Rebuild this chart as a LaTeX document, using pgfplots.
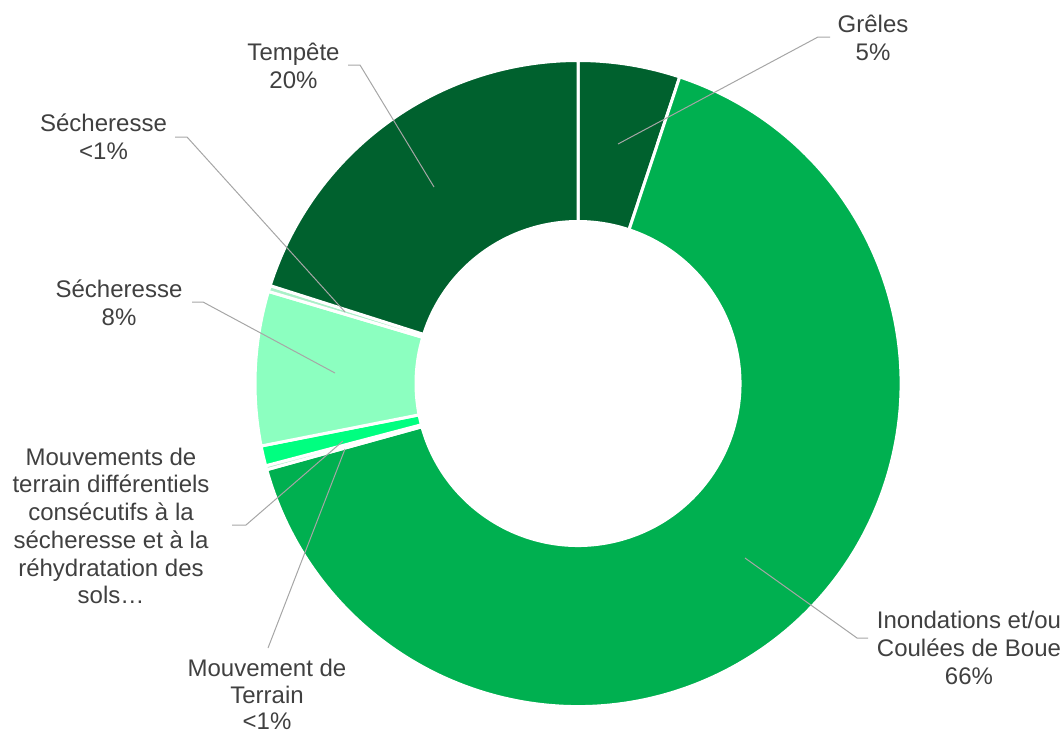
\documentclass[border=0pt]{standalone}
\usepackage{pgfplots}
\pgfplotsset{compat=1.18}
\usepackage{pgfplotstable}
\usepackage{fontspec}
\setmainfont{Liberation Sans}

\definecolor{dkgreen}{RGB}{0,97,46}
\definecolor{midgreen}{RGB}{0,176,80}
\definecolor{brightgreen}{RGB}{0,255,128}
\definecolor{mint}{RGB}{140,255,192}
\definecolor{pale}{RGB}{170,240,200}
\definecolor{labelgray}{RGB}{64,64,64}
\definecolor{leadergray}{RGB}{166,166,166}

% share of each type of event, in percent, clockwise from the top
\pgfplotstableread[col sep=comma]{
slice,value,colour
Grêles,5.1,dkgreen
Inondations et/ou Coulées de Boue,65.6,midgreen
Mouvement de Terrain,0.2,pale
Mouvements de terrain différentiels,1.0,brightgreen
Sécheresse,7.7,mint
Sécheresse (bis),0.3,pale
Tempête,20.1,dkgreen
}\slices

\newcommand\lbl[3]{\node[anchor=base, text=labelgray, inner sep=0pt,
  font=\fontsize{12pt}{13.8pt}\selectfont] at (axis cs:#1,#2) {#3};}

\begin{document}
\begin{tikzpicture}
\begin{axis}[name=ax, scale only axis, width=532pt, height=367pt,
  xmin=0, xmax=1064, ymin=0, ymax=734, y dir=reverse,
  hide axis, clip=false,
  leader/.style={leadergray, line width=0.5pt, no marks}]
\def\cx{578}\def\cy{383.5}
\def\cum{0}
\pgfplotstablegetrowsof{\slices}
\pgfmathtruncatemacro\lastrow{\pgfplotsretval-1}
\pgfplotsforeachungrouped \i in {0,...,\lastrow}{%
  \pgfplotstablegetelem{\i}{value}\of\slices\let\slval\pgfplotsretval
  \pgfplotstablegetelem{\i}{colour}\of\slices\let\slcol\pgfplotsretval
  \pgfmathsetmacro\aA{90-3.6*\cum}%
  \pgfmathsetmacro\cum{\cum+\slval}%
  \pgfmathsetmacro\aB{90-3.6*\cum}%
  \edef\cmd{\noexpand\filldraw[fill=\slcol, draw=white, line width=1.5pt, line join=round]
    (axis cs:\cx,\cy) ++(\aA:161.5pt) arc[start angle=\aA, end angle=\aB, radius=161.5pt]
    -- ([shift={(\aB:81pt)}]axis cs:\cx,\cy) arc[start angle=\aB, end angle=\aA, radius=81pt]
    -- cycle;}%
  \cmd
}

% leader lines from each slice to its label
\addplot[leader] coordinates {(618,144) (818,37) (830,37)};
\addplot[leader] coordinates {(745,558) (857,638) (868,638)};
\addplot[leader] coordinates {(345,449) (268,648)};
\addplot[leader] coordinates {(343,441) (246,525) (232,525)};
\addplot[leader] coordinates {(335,373) (203,302) (192,302)};
\addplot[leader] coordinates {(345,312) (187,137) (175,137)};
\addplot[leader] coordinates {(434,187) (360,65) (348,65)};

% labels
\lbl{873}{32.3}{Grêles}
\lbl{873}{60}{5\%}
\lbl{969}{628}{Inondations et/ou}
\lbl{969}{656}{Coulées de Boue}
\lbl{969}{684}{66\%}
\lbl{267}{676.5}{Mouvement de}
\lbl{267}{703}{Terrain}
\lbl{267}{729.5}{<1\%}
\lbl{111}{465}{Mouvements de}
\lbl{111}{492.6}{terrain différentiels}
\lbl{111}{520.5}{consécutifs à la}
\lbl{111}{548.5}{sécheresse et à la}
\lbl{111}{576}{réhydratation des}
\lbl{111}{603.5}{sols…}
\lbl{119}{297}{Sécheresse}
\lbl{119}{325}{8\%}
\lbl{103.5}{131.5}{Sécheresse}
\lbl{103.5}{159}{<1\%}
\lbl{293.5}{60.7}{Tempête}
\lbl{293.5}{88.3}{20\%}
\end{axis}
\pgfresetboundingbox
\path (ax.south west) rectangle (ax.north east);
\end{tikzpicture}
\end{document}
